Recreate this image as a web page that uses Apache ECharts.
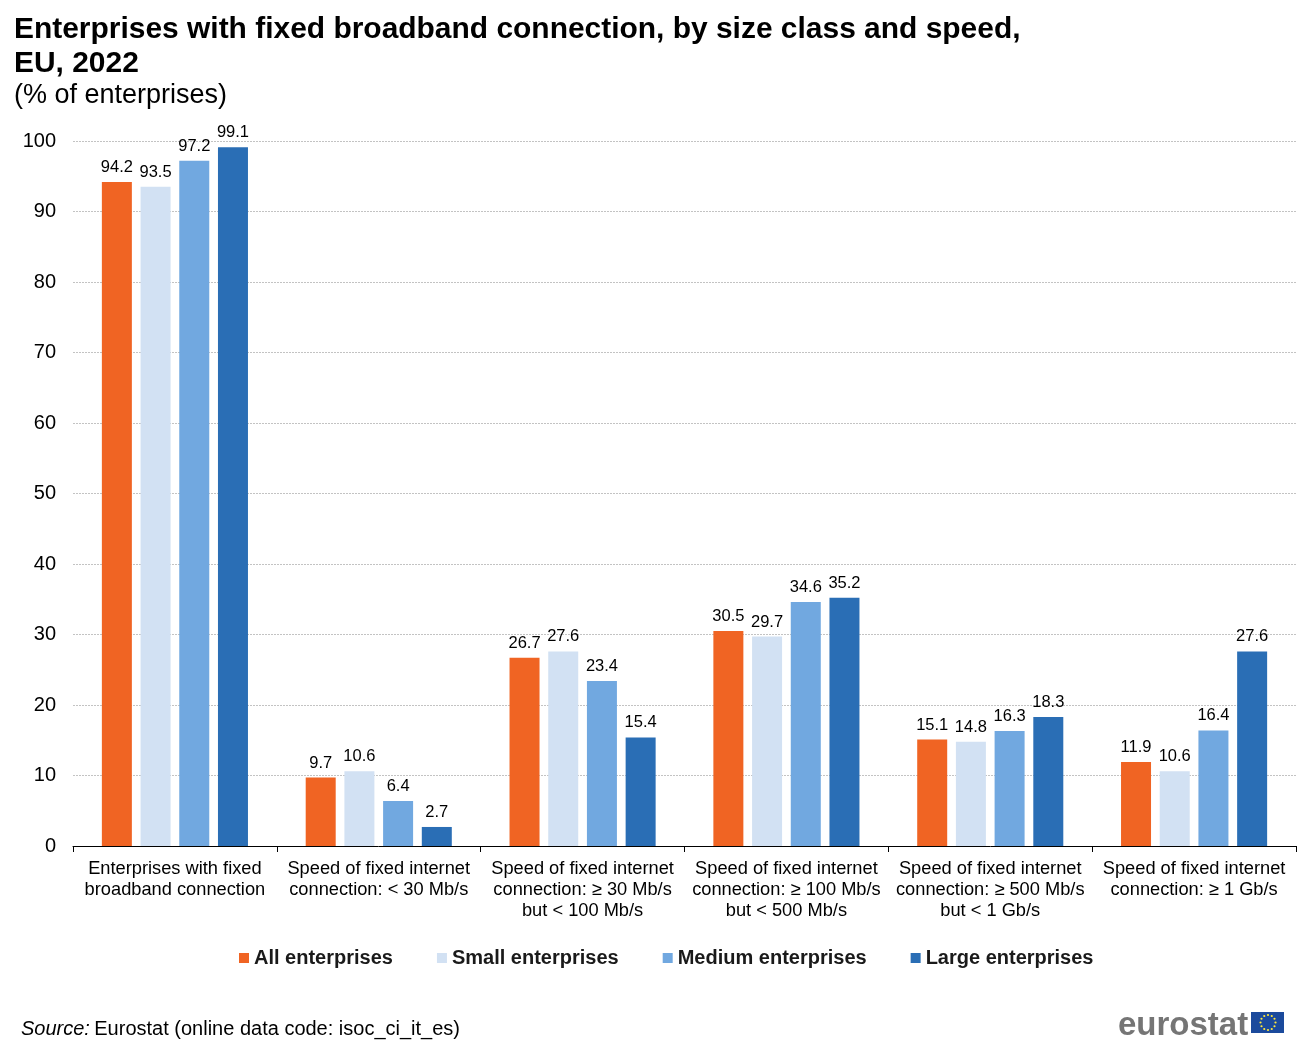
<!DOCTYPE html>
<html><head><meta charset="utf-8">
<style>html,body{margin:0;padding:0;background:#fff}#c{width:1316px;height:1046px}</style>
<script src="https://cdn.jsdelivr.net/npm/echarts@6/dist/echarts.min.js"></script>
</head><body><div id="c"></div>
<script>
const categories = [
  "Enterprises with fixed\nbroadband connection",
  "Speed of fixed internet\nconnection: < 30 Mb/s",
  "Speed of fixed internet\nconnection: ≥ 30 Mb/s\nbut < 100 Mb/s",
  "Speed of fixed internet\nconnection: ≥ 100 Mb/s\nbut < 500 Mb/s",
  "Speed of fixed internet\nconnection: ≥ 500 Mb/s\nbut < 1 Gb/s",
  "Speed of fixed internet\nconnection: ≥ 1 Gb/s"
];
const allEnterprises = [94.2, 9.7, 26.7, 30.5, 15.1, 11.9];
const smallEnterprises = [93.5, 10.6, 27.6, 29.7, 14.8, 10.6];
const mediumEnterprises = [97.2, 6.4, 23.4, 34.6, 16.3, 16.4];
const largeEnterprises = [99.1, 2.7, 15.4, 35.2, 18.3, 27.6];
const seriesNames = ["All enterprises", "Small enterprises", "Medium enterprises", "Large enterprises"];
const seriesColors = ["#F06423", "#D2E1F3", "#71A8E0", "#2A6EB5"];
const seriesValues = [allEnterprises, smallEnterprises, mediumEnterprises, largeEnterprises];
const FONT = '"Liberation Sans", Arial, sans-serif';

const chart = echarts.init(document.getElementById('c'), null, {renderer: 'canvas'});

const stars = [];
for (let i = 0; i < 12; i++) {
  const a = i * Math.PI / 6;
  stars.push({type: 'circle', shape: {cx: 1268 + 7.5 * Math.sin(a), cy: 1022.5 - 7.5 * Math.cos(a), r: 1.1},
    style: {fill: '#FFE93B'}});
}

chart.setOption({
  animation: false,
  backgroundColor: '#fff',
  textStyle: {fontFamily: FONT},
  grid: {left: 73, right: 20, top: 141, bottom: 200, containLabel: false},
  legend: {
    top: 943, left: 234, itemWidth: 10, itemHeight: 10, itemGap: 44,
    icon: 'rect',
    textStyle: {fontFamily: FONT, fontSize: 20, fontWeight: 'bold', color: '#1a1a1a'},
    data: seriesNames
  },
  xAxis: {
    type: 'category', data: categories,
    axisLine: {lineStyle: {color: '#000', width: 1}},
    axisTick: {show: true, alignWithLabel: false, length: 6, lineStyle: {color: '#000'}},
    axisLabel: {fontFamily: FONT, fontSize: 18.25, color: '#000', lineHeight: 21, margin: 12, interval: 0}
  },
  yAxis: {
    type: 'value', min: 0, max: 100, interval: 10,
    axisLine: {show: false}, axisTick: {show: false},
    axisLabel: {fontFamily: FONT, fontSize: 20, color: '#000', margin: 17, padding: [4, 0, 0, 0]},
    splitLine: {lineStyle: {color: '#B4B4B4', type: [2, 1], width: 0.8}}
  },
  series: seriesNames.map((n, i) => ({
    name: n, type: 'bar', data: seriesValues[i],
    barWidth: 30, barGap: '29%',
    itemStyle: {color: seriesColors[i]},
    label: {show: true, position: 'top', distance: 6, fontFamily: FONT, fontSize: 16.5, color: '#000', formatter: p => p.value.toFixed(1)}
  })),
  graphic: [
    {type: 'text', left: 14, top: 13, style: {text: 'Enterprises with fixed broadband connection, by size class and speed,\nEU, 2022', font: 'bold 29.95px ' + FONT, fill: '#000', lineHeight: 34}},
    {type: 'text', left: 14, top: 82, style: {text: '(% of enterprises)', font: '27px ' + FONT, fill: '#000'}},
    {type: 'text', left: 21, top: 1019, style: {rich: {i: {font: 'italic 20px ' + FONT, fill: '#000'}, n: {font: '20px ' + FONT, fill: '#000', padding: [0, 0, 0, 1]}}, text: '{i|Source:} {n|Eurostat (online data code: isoc_ci_it_es)}'}},
    {type: 'text', left: 1118, top: 1009, style: {text: 'eurostat', font: 'bold 33px ' + FONT, fill: '#757575'}},
    {type: 'rect', shape: {x: 1251, y: 1012, width: 33, height: 21}, style: {fill: '#1B4A9C'}},
    ...stars
  ]
});
</script></body></html>
